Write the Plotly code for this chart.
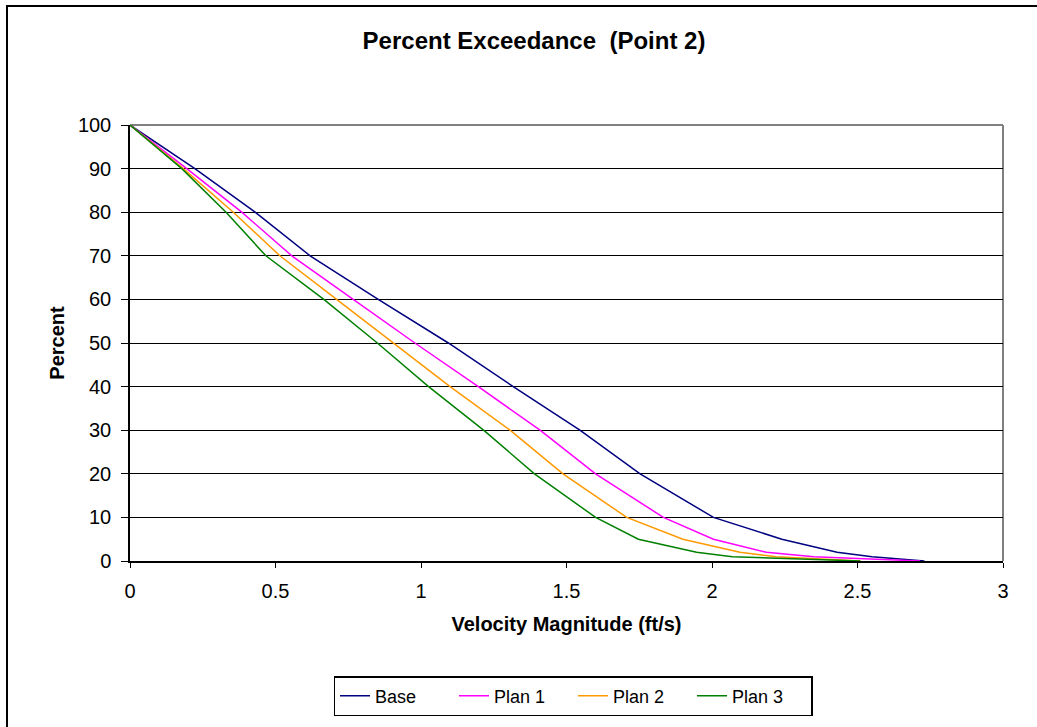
import plotly.graph_objects as go

percent = [100, 90, 80, 70, 60, 50, 40, 30, 20, 10, 5, 2, 1, 0]
base_v = [0, 0.223, 0.43, 0.619, 0.853, 1.094, 1.317, 1.546, 1.753, 2.005, 2.24, 2.43, 2.55, 2.73]
plan1_v = [0, 0.195, 0.384, 0.556, 0.767, 0.979, 1.197, 1.409, 1.60, 1.833, 2.005, 2.187, 2.35, 2.715]
plan2_v = [0, 0.183, 0.355, 0.515, 0.71, 0.905, 1.10, 1.306, 1.488, 1.707, 1.90, 2.096, 2.22, 2.51]
plan3_v = [0, 0.178, 0.33, 0.467, 0.666, 0.85, 1.026, 1.215, 1.39, 1.60, 1.747, 1.947, 2.07, 2.51]

series = [
    ("Base", base_v, "#000080"),
    ("Plan 1", plan1_v, "#FF00FF"),
    ("Plan 2", plan2_v, "#FF9900"),
    ("Plan 3", plan3_v, "#008000"),
]

fig = go.Figure()
for name, v, c in series:
    fig.add_trace(go.Scatter(x=v, y=percent, mode="lines", name=name,
                             line=dict(color=c, width=1.5)))

W, H = 1037, 727
L, R, T, B = 130, 34, 125, 166
pw, ph = W - L - R, H - T - B

def px(x):
    return (x - L) / pw

def py(y):
    return (H - B - y) / ph

font = "Liberation Sans, Arial, sans-serif"
fig.update_layout(
    width=W, height=H,
    margin=dict(l=L, r=R, t=T, b=B, autoexpand=False),
    paper_bgcolor="white", plot_bgcolor="white",
    font=dict(family=font, size=20, color="black"),
    title=dict(text="<b>Percent Exceedance  (Point 2)</b>", xref="container", x=534 / W,
               xanchor="center", y=1 - 41 / H, yanchor="middle",
               font=dict(size=24, family=font)),
    xaxis=dict(range=[0, 3], dtick=0.5, tick0=0, showgrid=False, zeroline=False,
               showline=True, linecolor="black", linewidth=1.5,
               ticks="outside", ticklen=5, tickcolor="black",
               tickfont=dict(size=20), ticklabelstandoff=6,
               title=dict(text="<b>Velocity Magnitude (ft/s)</b>", font=dict(size=20), standoff=16)),
    yaxis=dict(range=[0, 100], dtick=10, showgrid=True, gridcolor="black", gridwidth=1,
               zeroline=False, showline=True, linecolor="black", linewidth=1.5,
               ticks="outside", ticklen=7, tickcolor="black",
               tickfont=dict(size=20), ticklabelstandoff=6,
               title=dict(text="<b>Percent</b>", font=dict(size=20), standoff=8)),
    showlegend=True,
    legend=dict(orientation="h", x=px(573), xanchor="center", y=py(696), yanchor="middle",
                bordercolor="black", borderwidth=1.5, bgcolor="white",
                font=dict(size=18), tracegroupgap=0, entrywidth=74, entrywidthmode="pixels"),
    shapes=[
        dict(type="line", xref="paper", yref="paper", x0=0, x1=1, y0=1, y1=1,
             line=dict(color="#808080", width=2), layer="below"),
        dict(type="line", xref="paper", yref="paper", x0=1, x1=1, y0=0, y1=1,
             line=dict(color="#808080", width=2), layer="below"),
        dict(type="rect", xref="paper", yref="paper",
             x0=px(7), x1=px(1060), y0=py(6), y1=py(750),
             line=dict(color="black", width=2), fillcolor="rgba(0,0,0,0)"),
    ],
)

fig.write_html("out.html", config={"displayModeBar": False},
               post_script="document.body.style.margin='0';document.body.style.overflow='hidden';")
